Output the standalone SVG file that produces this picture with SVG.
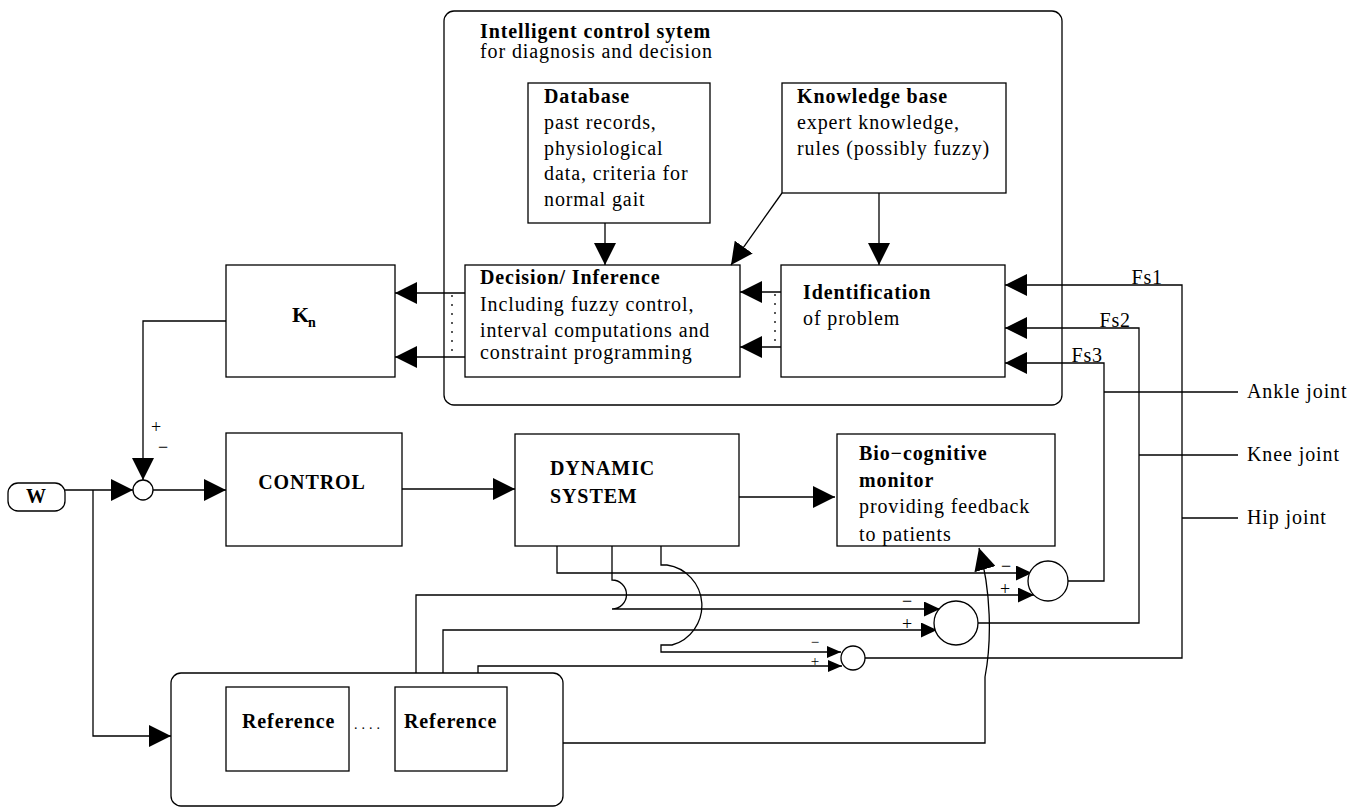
<svg xmlns="http://www.w3.org/2000/svg" width="1361" height="810" viewBox="0 0 1361 810">
<defs>
<style>
.ln{fill:none;stroke:#000;stroke-width:1.3}
.bx{fill:#fff;stroke:#000;stroke-width:1.3}
.dot{fill:none;stroke:#000;stroke-width:1.3;stroke-dasharray:2 7}
text{font-family:"Liberation Serif","Times New Roman",serif;font-size:20px;letter-spacing:0.9px;fill:#000}
.b{font-weight:bold}
.sg{font-size:18px;letter-spacing:0}
.sm{font-size:15px;letter-spacing:0}
</style>
<marker id="a" markerUnits="userSpaceOnUse" markerWidth="22" markerHeight="22" refX="22" refY="11" orient="auto"><path d="M0,0 L22,11 L0,22 z" fill="#000"/></marker>
<marker id="s" markerUnits="userSpaceOnUse" markerWidth="16" markerHeight="15" refX="16" refY="7.5" orient="auto"><path d="M0,0 L16,7.5 L0,15 z" fill="#000"/></marker>
<marker id="t" markerUnits="userSpaceOnUse" markerWidth="14" markerHeight="12" refX="14" refY="6" orient="auto"><path d="M0,0 L14,6 L0,12 z" fill="#000"/></marker>
</defs>
<rect width="1361" height="810" fill="#fff"/>

<g id="ics">
<rect x="444" y="11" width="618" height="394" rx="10" fill="none" stroke="#000" stroke-width="1.3"/>
<text class="b" x="480" y="38">Intelligent control sytem</text>
<text x="480" y="58">for diagnosis and decision</text>
</g>

<g id="database">
<rect class="bx" x="528" y="83" width="182" height="140"/>
<text class="b" x="544" y="103">Database</text>
<text x="544" y="129">past records,</text>
<text x="544" y="155">physiological</text>
<text x="544" y="180">data, criteria for</text>
<text x="544" y="206">normal gait</text>
</g>

<g id="knowledge">
<rect class="bx" x="782" y="83" width="224" height="110"/>
<text class="b" x="797" y="103">Knowledge base</text>
<text x="797" y="129">expert knowledge,</text>
<text x="797" y="155">rules (possibly fuzzy)</text>
</g>

<g id="decision">
<rect class="bx" x="465" y="265" width="275" height="112"/>
<text class="b" x="480" y="284">Decision/ Inference</text>
<text x="480" y="311">Including fuzzy control,</text>
<text x="480" y="337">interval computations and</text>
<text x="480" y="359">constraint programming</text>
</g>

<g id="identification">
<rect class="bx" x="781" y="265" width="224" height="112"/>
<text class="b" x="803" y="299">Identification</text>
<text x="803" y="325">of problem</text>
</g>

<g id="kn">
<rect class="bx" x="226" y="265" width="169" height="112"/>
<text class="b" x="292" y="322" style="font-size:22px">K</text>
<text class="b" x="308" y="327" style="font-size:14px">n</text>
</g>

<g id="w">
<rect x="8" y="483" width="57" height="28" rx="10" fill="#fff" stroke="#000" stroke-width="1.3"/>
<text class="b" x="36" y="503" text-anchor="middle" style="letter-spacing:0">W</text>
</g>

<g id="control">
<rect class="bx" x="226" y="433" width="176" height="113"/>
<text class="b" x="312" y="489" text-anchor="middle">CONTROL</text>
</g>

<g id="dynamic">
<rect class="bx" x="515" y="434" width="224" height="112"/>
<text class="b" x="550" y="475">DYNAMIC</text>
<text class="b" x="550" y="503">SYSTEM</text>
</g>

<g id="bio">
<rect class="bx" x="837" y="434" width="218" height="112"/>
<text class="b" x="859" y="460">Bio−cognitive</text>
<text class="b" x="859" y="487">monitor</text>
<text x="859" y="513">providing feedback</text>
<text x="859" y="541">to patients</text>
</g>

<g id="references">
<rect x="171" y="673" width="392" height="133" rx="10" fill="#fff" stroke="#000" stroke-width="1.3"/>
<rect class="bx" x="226" y="687" width="123" height="84"/>
<text class="b" x="242" y="728">Reference</text>
<rect class="bx" x="395" y="687" width="112" height="84"/>
<text class="b" x="404" y="728">Reference</text>
<text x="354" y="729" style="font-size:14px;letter-spacing:4px">....</text>
</g>

<g id="connectors">
<path class="ln" d="M605 223 V265" marker-end="url(#a)"/>
<path class="ln" d="M879 193 V265" marker-end="url(#a)"/>
<path class="ln" d="M782 193 L731 265" marker-end="url(#a)"/>
<path class="ln" d="M465 293 H395" marker-end="url(#a)"/>
<path class="ln" d="M465 357 H395" marker-end="url(#a)"/>
<path class="dot" d="M452 295 V357"/>
<path class="ln" d="M781 292 H740" marker-end="url(#a)"/>
<path class="ln" d="M781 347 H740" marker-end="url(#a)"/>
<path class="dot" d="M775 294 V347"/>
<path class="ln" d="M226 321 H143 V480" marker-end="url(#a)"/>
<path class="ln" d="M65 490 H133" marker-end="url(#a)"/>
<path class="ln" d="M153 490 H226" marker-end="url(#a)"/>
<path class="ln" d="M93 490 V736 H171" marker-end="url(#a)"/>
<path class="ln" d="M402 489 H515" marker-end="url(#a)"/>
<path class="ln" d="M739 497 H835" marker-end="url(#a)"/>
<path class="ln" d="M557 546 V573 H1032" marker-end="url(#s)"/>
<path class="ln" d="M612 546 V580 A14.5 14.5 0 0 1 612 609 H940" marker-end="url(#s)"/>
<path class="ln" d="M661 546 V565 H667 A41 41 0 0 1 672 645 H661 V652 H841" marker-end="url(#t)"/>
<path class="ln" d="M416 673 V595 H1034" marker-end="url(#s)"/>
<path class="ln" d="M443 673 V630 H937" marker-end="url(#s)"/>
<path class="ln" d="M478 673 V666 H842" marker-end="url(#t)"/>
<path class="ln" d="M563 743 H985 V677 C992 640 991 590 979 548" marker-end="url(#a)"/>
<path class="ln" d="M1068 581 H1104 V363 H1005" marker-end="url(#a)"/>
<path class="ln" d="M978 623 H1139 V328 H1005" marker-end="url(#a)"/>
<path class="ln" d="M865 658 H1182 V285 H1005" marker-end="url(#a)"/>
<path class="ln" d="M1104 392 H1238"/>
<path class="ln" d="M1139 455 H1238"/>
<path class="ln" d="M1182 518 H1238"/>
</g>

<g id="sum-main">
<circle cx="143" cy="490" r="10" fill="#fff" stroke="#000" stroke-width="1.3"/>
<text class="sg" x="156" y="433" text-anchor="middle">+</text>
<text class="sg" x="163" y="453" text-anchor="middle">−</text>
</g>
<g id="sum-ankle">
<circle cx="1048" cy="581" r="20" fill="#fff" stroke="#000" stroke-width="1.3"/>
<text class="sg" x="1006" y="572" text-anchor="middle">−</text>
<text class="sg" x="1005" y="595" text-anchor="middle">+</text>
</g>
<g id="sum-knee">
<ellipse cx="956" cy="623" rx="22" ry="22" fill="#fff" stroke="#000" stroke-width="1.3"/>
<text class="sg" x="907" y="607" text-anchor="middle">−</text>
<text class="sg" x="907" y="630" text-anchor="middle">+</text>
</g>
<g id="sum-hip">
<circle cx="853" cy="658" r="12" fill="#fff" stroke="#000" stroke-width="1.3"/>
<text class="sm" x="815" y="647" text-anchor="middle">−</text>
<text class="sm" x="815" y="666" text-anchor="middle">+</text>
</g>

<g id="labels">
<text x="1163" y="284" text-anchor="end">Fs1</text>
<text x="1131" y="327" text-anchor="end">Fs2</text>
<text x="1103" y="362" text-anchor="end">Fs3</text>
<text x="1247" y="398">Ankle joint</text>
<text x="1247" y="461">Knee joint</text>
<text x="1247" y="524">Hip joint</text>
</g>
</svg>
